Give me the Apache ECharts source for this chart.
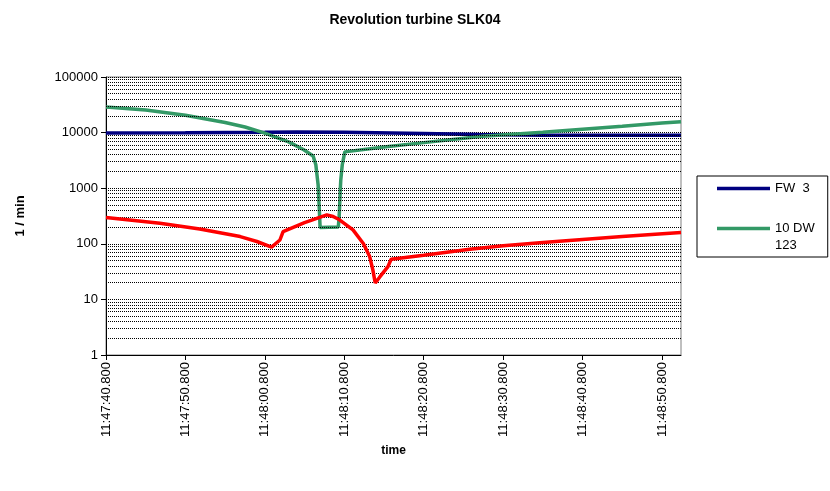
<!DOCTYPE html>
<html>
<head>
<meta charset="utf-8">
<script src="https://cdn.jsdelivr.net/npm/echarts@6/dist/echarts.min.js"></script>
<style>
  html, body { margin: 0; padding: 0; background: #fff; }
  #chart { width: 830px; height: 491px; }
</style>
</head>
<body>
<div id="chart"></div>
<script>
// Time axis: seconds after 11:47:40.800
const startClock = 11 * 3600 + 47 * 60 + 40.8;
const tickSeconds = [0, 10, 20, 30, 40, 50, 60, 70];
const yTicks = [1, 10, 100, 1000, 10000, 100000];

// FW 3
const fwName   = 'FW  3';
const fwTime   = [0, 10, 20, 24, 30, 40, 47, 55, 65, 72.4];
const fwValues = [9800, 9900, 10100, 10200, 10100, 9600, 9200, 9000, 9000, 9000];

// 10 DW 123
const dwName   = '10 DW\n123';
const dwTime   = [0, 5, 10, 15, 17.5, 20, 23, 24.9, 26.08, 26.42, 26.71, 26.86, 26.96, 29.25, 29.37, 29.47, 29.56, 29.75, 30.07, 35, 40, 47.4, 55, 60, 65, 70, 72.4];
const dwValues = [29000, 25600, 20500, 15200, 12600, 9800, 6800, 4900, 3800, 2640, 1150, 410, 196, 200, 330, 760, 1400, 2640, 4500, 5500, 6600, 8600, 10100, 11500, 13000, 14900, 15700];

// third trace (not listed in the legend)
const rdName   = 'Series 3';
const rdTime   = [0, 6.8, 11.8, 16.9, 19, 20.85, 21.9, 22.3, 25, 27.8, 28.6, 29.4, 31.1, 32.4, 33.2, 33.6, 33.9, 34.5, 35.5, 35.9, 40, 45.8, 50, 55, 60, 65, 72.4];
const rdValues = [296, 235, 185, 135, 110, 87, 117, 166, 240, 331, 310, 270, 178, 101, 59, 34, 19.7, 25.6, 38.9, 52.8, 62, 80, 92, 106, 120, 135, 160];

const pairs = (xs, ys) => xs.map((x, i) => [x, ys[i]]);

function clockLabel(sec) {
  const total = startClock + sec;
  const h = Math.floor(total / 3600);
  const m = Math.floor((total - h * 3600) / 60);
  const s = total - h * 3600 - m * 60;
  const whole = Math.floor(s + 1e-6);
  const ms = Math.round((s - whole) * 1000);
  const p2 = n => String(n).padStart(2, '0');
  return p2(h) + ':' + p2(m) + ':' + p2(whole) + '.' + String(ms).padStart(3, '0');
}

// minor gridlines 2..9 in each decade
const minorLines = [];
for (let d = 1; d < 100000; d *= 10) {
  for (let k = 2; k <= 9; k++) minorLines.push({ yAxis: d * k });
}

const font = "'Liberation Sans', Arial, sans-serif";
const gridDots = { color: '#000', width: 1, type: [1, 1] };

const chart = echarts.init(document.getElementById('chart'), null, { renderer: 'canvas' });
chart.setOption({
  animation: false,
  backgroundColor: '#fff',
  textStyle: { fontFamily: font },
  title: {
    text: 'Revolution turbine SLK04',
    left: 'center',
    top: 8,
    textStyle: { fontFamily: font, fontSize: 14, fontWeight: 'bold', color: '#000' }
  },
  grid: {
    left: 106, right: 149, top: 77, bottom: 136,
    show: true, borderColor: '#808080', borderWidth: 1, backgroundColor: '#fff'
  },
  legend: {
    orient: 'vertical',
    left: 697, top: 176,
    data: [fwName, dwName],
    // blank first line keeps the sample line level with "10 DW"
    formatter: name => name.indexOf('\n') >= 0 ? ' \n' + name : name,
    icon: 'rect',
    itemWidth: 53,
    itemHeight: 3.5,
    itemGap: 6,
    borderColor: '#000',
    borderWidth: 1,
    padding: [4, 13, 3, 20],
    textStyle: { fontFamily: font, fontSize: 13, color: '#000', lineHeight: 17 }
  },
  xAxis: {
    type: 'value',
    min: 0,
    max: 72.4,
    interval: 10,
    name: 'time',
    nameLocation: 'middle',
    nameGap: 88,
    nameTextStyle: { fontFamily: font, fontSize: 12, fontWeight: 'bold', color: '#000' },
    axisLine: { show: true, lineStyle: { color: '#000', width: 1 } },
    axisTick: { show: true, inside: false, length: 5, lineStyle: { color: '#000' }, customValues: tickSeconds },
    axisLabel: {
      rotate: 90,
      margin: 7,
      fontFamily: font, fontSize: 13, color: '#000',
      customValues: tickSeconds,
      formatter: v => clockLabel(v)
    },
    splitLine: { show: false }
  },
  yAxis: {
    type: 'log',
    logBase: 10,
    min: 1,
    max: 100000,
    name: '1 / min',
    nameLocation: 'middle',
    nameGap: 79,
    nameTextStyle: { fontFamily: font, fontSize: 13, fontWeight: 'bold', color: '#000' },
    axisLine: { show: true, lineStyle: { color: '#000', width: 1 } },
    axisTick: { show: true, inside: false, length: 5, lineStyle: { color: '#000' } },
    axisLabel: {
      margin: 8,
      fontFamily: font, fontSize: 13, color: '#000',
      formatter: v => yTicks.indexOf(Math.round(v)) >= 0 ? String(Math.round(v)) : ''
    },
    splitLine: { show: true, lineStyle: gridDots }
  },
  series: [
    {
      name: 'gridlines',
      type: 'line',
      data: [],
      silent: true,
      z: 1,
      markLine: {
        silent: true,
        symbol: 'none',
        label: { show: false },
        lineStyle: gridDots,
        emphasis: { disabled: true },
        data: minorLines
      }
    },
    {
      name: fwName,
      type: 'line',
      data: pairs(fwTime, fwValues),
      showSymbol: false,
      z: 3,
      lineStyle: { color: '#000080', width: 3.5 },
      itemStyle: { color: '#000080' }
    },
    {
      name: dwName,
      type: 'line',
      data: pairs(dwTime, dwValues),
      showSymbol: false,
      z: 4,
      lineStyle: { color: '#339966', width: 3.5 },
      itemStyle: { color: '#339966' }
    },
    {
      name: rdName,
      type: 'line',
      data: pairs(rdTime, rdValues),
      showSymbol: false,
      z: 5,
      lineStyle: { color: '#ff0000', width: 3.5 },
      itemStyle: { color: '#ff0000' }
    }
  ]
});
</script>
</body>
</html>
